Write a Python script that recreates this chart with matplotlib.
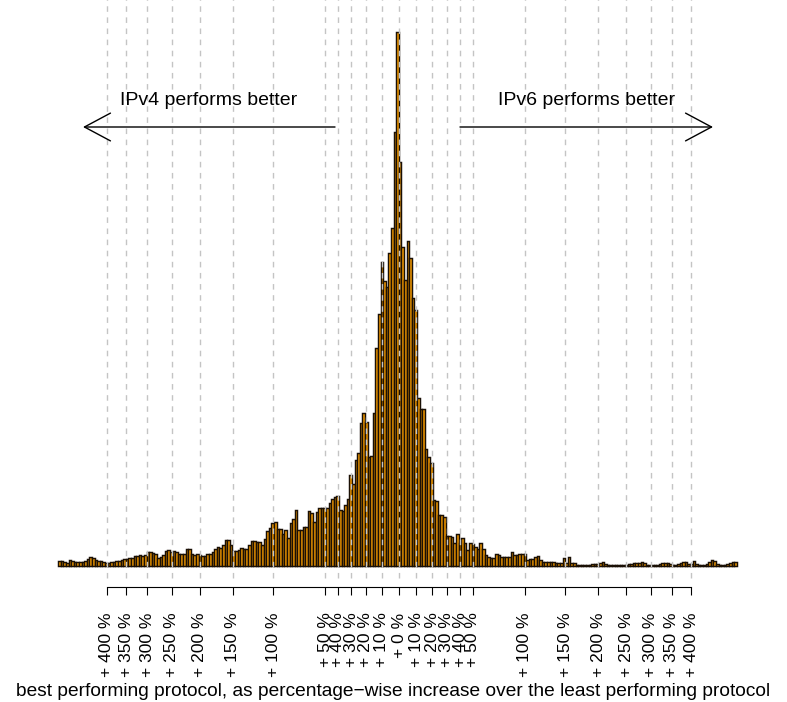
import numpy as np
import matplotlib
matplotlib.use("Agg")
import matplotlib.pyplot as plt

plt.rcParams['font.family'] = ['Liberation Sans', 'DejaVu Sans']

# histogram counts, left (IPv4 better) to right (IPv6 better)
counts = [5, 5, 4, 3, 6, 5, 4, 4, 4, 4,
          5, 7, 9, 8, 6, 5, 5, 4, 3, 3,
          4, 4, 5, 5, 6, 7, 7, 8, 8, 10,
          10, 11, 10, 11, 14, 14, 13, 12, 8, 9,
          11, 15, 16, 14, 15, 14, 12, 12, 12, 17,
          17, 12, 11, 12, 11, 10, 10, 12, 12, 14,
          17, 19, 18, 21, 26, 26, 21, 15, 15, 16,
          18, 17, 17, 21, 25, 25, 24, 24, 21, 27,
          35, 38, 43, 44, 37, 37, 32, 36, 28, 43,
          47, 56, 36, 36, 39, 39, 55, 53, 44, 54,
          58,
          58, 58, 58, 63, 67, 69, 70, 56, 55, 61,
          67, 91, 82, 106, 113, 143, 153, 144, 109, 110,
          153, 218, 252, 304, 285, 279, 313, 338, 434, 534,
          404, 319, 286, 325, 308, 268, 256, 168, 157, 157,
          117, 109, 103, 66, 65, 51, 51, 49, 30, 30,
          29, 23, 32, 23, 28, 23, 16, 23, 22,
          19, 17, 23, 17, 11, 9, 8, 8, 12, 11,
          9, 9, 9, 9, 14, 11, 11, 12, 12, 12,
          6, 7, 7, 9, 10, 6, 4, 4, 4, 4,
          4, 3, 3, 3, 8, 3, 9, 3, 3, 1,
          1, 1, 1, 1, 1, 2, 2, 2, 3, 4,
          2, 1, 1, 1, 1, 1, 1, 1, 1, 2,
          2, 3, 3, 3, 4, 3, 1, 1, 1, 1,
          1, 2, 3, 3, 3, 2, 1, 1, 2, 3,
          4, 4, 2, 2, 5, 2, 1, 1, 1, 2,
          4, 6, 5, 2, 1, 1, 1, 2, 3, 4, 4]

left_pct = [400, 350, 300, 250, 200, 150, 100, 50, 40, 30, 20, 10]
right_pct = [10, 20, 30, 40, 50, 100, 150, 200, 250, 300, 350, 400]

xlabel = "best performing protocol, as percentage\u2212wise increase over the least performing protocol"

# log scale of (1 + increase), mirrored around zero
ticks = ([-np.log(1 + p / 100) for p in left_pct] + [0.0] +
         [np.log(1 + p / 100) for p in right_pct])
labels = ["+ %d %%" % p for p in left_pct] + ["+ 0 %"] + ["+ %d %%" % p for p in right_pct]

edges = np.linspace(-1.878, 1.861, len(counts) + 1)

fig = plt.figure(figsize=(7.87, 7.02), dpi=100)
ax = fig.add_axes([0, 0, 1, 1])
ax.set_xlim(-399 / 181.5, (787 - 399) / 181.5)
ax.set_ylim(-136, 566)

ax.bar(edges[:-1], counts, width=np.diff(edges), align='edge',
       color='#F59A00', edgecolor='#1a1005', linewidth=1.05, zorder=2)

ax.vlines(ticks, -12, 600, colors='#C4C4C4', linestyles=(0, (4, 4)), lw=1, zorder=3)

for s in ['top', 'left', 'right']:
    ax.spines[s].set_visible(False)
ax.spines['bottom'].set_position(('data', -21))
ax.spines['bottom'].set_bounds(-np.log(5), np.log(5))
ax.spines['bottom'].set_linewidth(0.8)
ax.set_yticks([])
ax.set_xticks(ticks)
ax.set_xticklabels(labels, rotation=90, fontsize=12.6)
ax.tick_params(axis='x', length=5.8, width=0.8, pad=12.5)

ax.annotate('', xy=(-1.741, 439), xytext=(-0.3526, 439),
            arrowprops=dict(arrowstyle='->,head_length=18.7,head_width=10',
                            mutation_scale=1, lw=1, color='black',
                            shrinkA=0, shrinkB=0))
ax.annotate('', xy=(1.730, 439), xytext=(0.336, 439),
            arrowprops=dict(arrowstyle='->,head_length=18.7,head_width=10',
                            mutation_scale=1, lw=1, color='black',
                            shrinkA=0, shrinkB=0))
ax.text((209 - 399) / 181.5, 566 - 100.7, "IPv4 performs better",
        ha='center', va='center', fontsize=14)
ax.text((586.5 - 399) / 181.5, 566 - 100.7, "IPv6 performs better",
        ha='center', va='center', fontsize=14)

fig.text(393.5 / 787, 1 - 692 / 702, xlabel, ha='center', va='center', fontsize=13.8)

fig.savefig("out.png", dpi=100)
